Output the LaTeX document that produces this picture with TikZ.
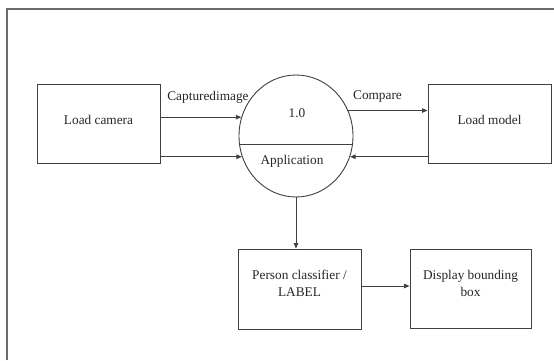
\documentclass[tikz,border=0pt]{standalone}
\usepackage{fontspec}
\setmainfont{Liberation Serif}
\usetikzlibrary{arrows.meta,shapes.geometric}
\definecolor{inkline}{HTML}{404040}
\definecolor{inktext}{HTML}{262626}
\definecolor{framegray}{HTML}{6A6A6A}
\begin{document}
\begin{tikzpicture}[x=1pt,y=1pt,
  every node/.style={text=inktext,font=\fontsize{13.3}{17}\selectfont},
  box/.style={draw=inkline,line width=0.9pt,inner sep=0pt},
  proc/.style={ellipse,draw=inkline,line width=0.9pt,inner sep=0pt,
               minimum width=114pt,minimum height=122pt},
  txt/.style={align=center,inner sep=0pt},
  flow/.style={draw=inkline,line width=0.9pt,
               -{Triangle[length=5.5pt,width=4.5pt]}}]
  \useasboundingbox (0,0) rectangle (554,360);
  \fill[white] (0,0) rectangle (554,360);

  % outer frame (runs off the right and bottom edges)
  \draw[framegray,line width=1.2pt] (7,0) -- (7,351) -- (554,351);

  % external entities and the process bubble
  \node[box,minimum width=123pt,minimum height=79pt] (cam) at (98.5,236.5) {};
  \node[txt] (camtxt) at (98.5,240) {Load camera};
  \node[box,minimum width=123pt,minimum height=79pt] (model) at (489.5,236.5) {};
  \node[txt] (modeltxt) at (489.5,240) {Load model};
  \node[proc] (proc) at (296,224) {};
  \draw[inkline,line width=0.9pt] (proc.188.06) -- (proc.188.06 -| proc.351.94);
  \node[txt] (procid) at (297,247) {1.0};
  \node[txt] (procname) at (292,199) {Application};

  \node[box,minimum width=123pt,minimum height=80pt] (cls) at (299.5,71) {};
  \node[txt] (clstxt) at (299.5,76.5) {Person classifier /\\LABEL};
  \node[box,minimum width=121pt,minimum height=79pt] (disp) at (470.5,71) {};
  \node[txt] (disptxt) at (470.5,76.5) {Display bounding\\box};

  % data flows
  \draw[flow] (cam.east |- proc.161) -- (proc.161);
  \draw[flow] (cam.east |- proc.201) -- (proc.201);
  \draw[flow] (proc.26.3) -- (proc.26.3 -| model.west);
  \draw[flow] (model.west |- proc.339) -- (proc.339);
  \draw[flow] (proc.south) -- (proc.south |- cls.north);
  \draw[flow] ([yshift=3pt]cls.east) -- ([yshift=3pt]cls.east -| disp.west);

  % flow labels
  \node[txt] (lblcap) at (208,263) {Capturedimage};
  \node[txt] (lblcmp) at (377.5,263) {Compare};
\end{tikzpicture}
\end{document}
